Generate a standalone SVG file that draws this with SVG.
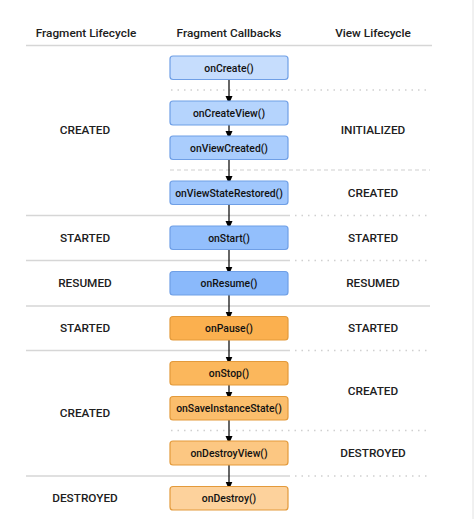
<svg xmlns="http://www.w3.org/2000/svg" width="475" height="519" viewBox="0 0 475 519">
<defs>
<marker id="ah" markerWidth="8" markerHeight="8" refX="4" refY="4" orient="auto" markerUnits="userSpaceOnUse">
<path d="M0,0.5 L8,4 L0,7.5 Z" fill="#000"/>
</marker>
<style>
.hdr{font-family:Roboto,"Liberation Sans",sans-serif;font-size:11.8px;font-weight:500;fill:#202020;text-anchor:middle}
.lbl{font-family:Roboto,"Liberation Sans",sans-serif;font-size:11.8px;font-weight:500;fill:#202020;text-anchor:middle}
.bt{font-family:Roboto,"Liberation Sans",sans-serif;font-size:10.4px;font-weight:500;fill:#111;text-anchor:middle}
.solid{stroke:#d6d6d6;stroke-width:1.5;fill:none}
.dot{stroke:#d0d0d0;stroke-width:1.5;stroke-dasharray:1.5 5;fill:none}
.dash{stroke:#d0d0d0;stroke-width:1.2;stroke-dasharray:4 3;fill:none}
.b{stroke:#6f9fe6;stroke-width:1.2}
.o{stroke:#e39a3b;stroke-width:1.2}
.conn{stroke:#000;stroke-width:1.2;fill:none;marker-end:url(#ah)}
</style>
</defs>
<rect width="475" height="519" fill="#fff"/>
<line x1="473" y1="0" x2="473" y2="519" stroke="#e2e2e2" stroke-width="1"/>
<g id="headers">
<text class="hdr" x="86" y="37">Fragment Lifecycle</text>
<text class="hdr" x="229" y="37">Fragment Callbacks</text>
<text class="hdr" x="373" y="37">View Lifecycle</text>
</g>
<g id="separators">
<line class="solid" x1="26" y1="45.5" x2="432" y2="45.5"/>
<line class="dot" x1="171" y1="90" x2="430" y2="90"/>
<line class="dash" x1="170" y1="170" x2="430" y2="170"/>
<line class="solid" x1="26" y1="215.5" x2="290" y2="215.5"/>
<line class="dot" x1="295" y1="215.5" x2="430" y2="215.5"/>
<line class="solid" x1="26" y1="260.5" x2="290" y2="260.5"/>
<line class="dot" x1="295" y1="260.5" x2="430" y2="260.5"/>
<line class="solid" x1="26" y1="306" x2="430" y2="306"/>
<line class="solid" x1="26" y1="350.5" x2="290" y2="350.5"/>
<line class="dot" x1="295" y1="350.5" x2="430" y2="350.5"/>
<line class="dot" x1="171" y1="430.5" x2="430" y2="430.5"/>
<line class="solid" x1="26" y1="476" x2="290" y2="476"/>
<line class="dot" x1="295" y1="476" x2="430" y2="476"/>
</g>
<g id="fragment-lifecycle">
<text class="lbl" x="85" y="134">CREATED</text>
<text class="lbl" x="85" y="242">STARTED</text>
<text class="lbl" x="85" y="287">RESUMED</text>
<text class="lbl" x="85" y="332">STARTED</text>
<text class="lbl" x="85" y="417">CREATED</text>
<text class="lbl" x="85" y="502">DESTROYED</text>
</g>
<g id="view-lifecycle">
<text class="lbl" x="373" y="134">INITIALIZED</text>
<text class="lbl" x="373" y="197">CREATED</text>
<text class="lbl" x="373" y="242">STARTED</text>
<text class="lbl" x="373" y="287">RESUMED</text>
<text class="lbl" x="373" y="332">STARTED</text>
<text class="lbl" x="373" y="395">CREATED</text>
<text class="lbl" x="373" y="457">DESTROYED</text>
</g>
<g id="connectors">
<line class="conn" x1="229" y1="79.5" x2="229" y2="100"/>
<line class="conn" x1="229" y1="125" x2="229" y2="135"/>
<line class="conn" x1="229" y1="159.5" x2="229" y2="180"/>
<line class="conn" x1="229" y1="204.5" x2="229" y2="225"/>
<line class="conn" x1="229" y1="249.5" x2="229" y2="270.5"/>
<line class="conn" x1="229" y1="295" x2="229" y2="315.5"/>
<line class="conn" x1="229" y1="340" x2="229" y2="360.5"/>
<line class="conn" x1="229" y1="385" x2="229" y2="395.5"/>
<line class="conn" x1="229" y1="420" x2="229" y2="440"/>
<line class="conn" x1="229" y1="465" x2="229" y2="485.5"/>
</g>
<g id="onCreate"><rect class="b" x="170" y="56" width="118" height="23.5" rx="3" fill="#c6ddfd"/><text class="bt" x="229" y="71.5">onCreate()</text></g>
<g id="onCreateView"><rect class="b" x="170" y="101" width="118" height="24" rx="3" fill="#b5d4fd"/><text class="bt" x="229" y="116.5">onCreateView()</text></g>
<g id="onViewCreated"><rect class="b" x="170" y="136" width="118" height="23.5" rx="3" fill="#aacdfd"/><text class="bt" x="229" y="151.5">onViewCreated()</text></g>
<g id="onViewStateRestored"><rect class="b" x="170" y="181" width="118" height="23.5" rx="3" fill="#a0c7fd"/><text class="bt" x="229" y="196.5">onViewStateRestored()</text></g>
<g id="onStart"><rect class="b" x="170" y="226" width="118" height="23.5" rx="3" fill="#93bffc"/><text class="bt" x="229" y="241.5">onStart()</text></g>
<g id="onResume"><rect class="b" x="170" y="271.5" width="118" height="23.5" rx="3" fill="#8ab9fb"/><text class="bt" x="229" y="287">onResume()</text></g>
<g id="onPause"><rect class="o" x="170" y="316.5" width="118" height="23.5" rx="3" fill="#fbb04f"/><text class="bt" x="229" y="332">onPause()</text></g>
<g id="onStop"><rect class="o" x="170" y="361.5" width="118" height="23.5" rx="3" fill="#fbb75c"/><text class="bt" x="229" y="377">onStop()</text></g>
<g id="onSaveInstanceState"><rect class="o" x="170" y="396.5" width="118" height="23.5" rx="3" fill="#fbbe6c"/><text class="bt" x="229" y="412">onSaveInstanceState()</text></g>
<g id="onDestroyView"><rect class="o" x="170" y="441" width="118" height="24" rx="3" fill="#fcc782"/><text class="bt" x="229" y="456.5">onDestroyView()</text></g>
<g id="onDestroy"><rect class="o" x="170" y="486.5" width="118" height="23.5" rx="3" fill="#fdd29c"/><text class="bt" x="229" y="502">onDestroy()</text></g>
</svg>
